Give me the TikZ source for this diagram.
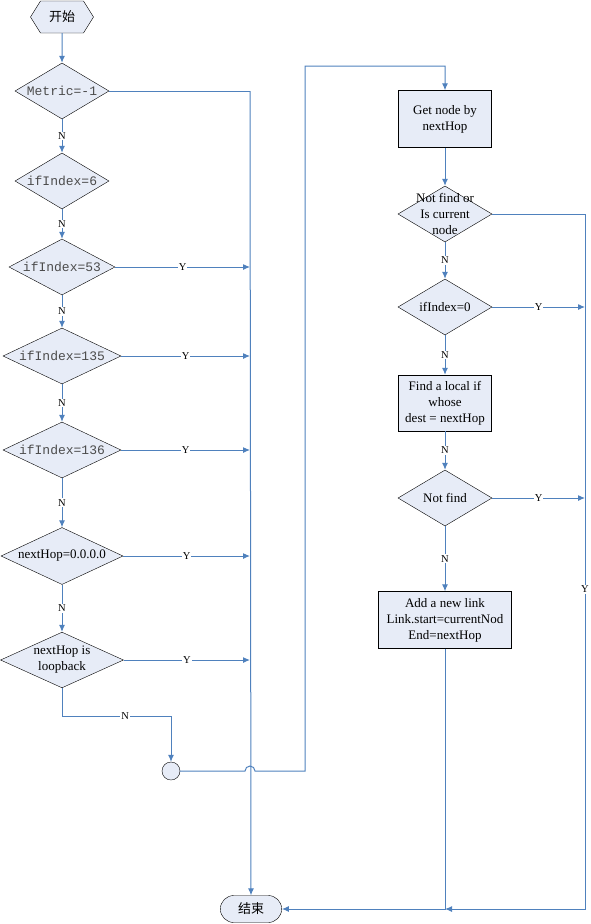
\documentclass[tikz,border=0pt]{standalone}
\usepackage{fontspec}
\setmainfont{Liberation Serif}
\setmonofont{Liberation Mono}
\newfontfamily\cjk{Noto Sans CJK SC}
\usetikzlibrary{shapes.geometric,shapes.symbols,shapes.misc,arrows.meta}
\definecolor{lineblue}{RGB}{79,129,189}
\definecolor{boxfill}{RGB}{231,236,247}

\begin{document}
\begin{tikzpicture}
	[x=1pt,y=-1pt,
	 every node/.style={font=\fontsize{13}{16}\selectfont},
	 dec/.style={diamond,draw,fill=boxfill,inner sep=0pt,aspect=2,minimum width=94pt,minimum height=56pt},
	 proc/.style={rectangle,draw,fill=boxfill,align=center,minimum width=93pt,minimum height=57pt},
	 code/.style={font=\fontsize{13}{16}\selectfont\ttfamily,text=black!70},
	 yn/.style={fill=white,text=black,inner sep=1pt,font=\fontsize{10.5}{12}\selectfont},
	 link/.style={lineblue,line width=1pt},
	 >={Latex[length=7pt,width=6pt]}]
    \useasboundingbox (0,0) rectangle (591,924);

    \node[signal,signal to=west and east,signal pointer angle=116,draw,fill=boxfill,minimum width=63pt,minimum height=32pt,inner sep=0pt] (start) at (62,17) {\cjk 开始};
    \node[dec,code] (met) at (62,91) {Metric=-1};
    \node[dec,code] (i6) at (62,181) {ifIndex=6};
    \node[dec,code,minimum width=106pt] (i53) at (62,267) {ifIndex=53};
    \node[dec,code,minimum width=118pt] (i135) at (62,356) {ifIndex=135};
    \node[dec,code,minimum width=118pt] (i136) at (62,450) {ifIndex=136};
    \node[dec,minimum width=122pt,minimum height=57pt] (nh) at (62,556) {nextHop=0.0.0.0};
    \node[dec,align=center,minimum width=123pt,minimum height=55pt] (lb) at (62,660) {nextHop is\\loopback};
    \node[circle,draw,fill=boxfill,minimum size=18pt,inner sep=0pt] (con) at (171,771) {};
    \node[rounded rectangle,draw,fill=boxfill,minimum width=68pt,minimum height=27pt] (end) at (251,909) {\cjk 结束};

    \node[proc] (get) at (445,119) {Get node by\\nextHop};
    \node[dec] (cur) at (445,214) {};
    \node[align=center] (curtext) at (cur) {Not find or\\Is current\\node};
    \node[dec] (i0) at (445,307) {ifIndex=0};
    \node[proc,minimum height=56pt] (loc) at (445,403) {Find a local if\\whose\\dest = nextHop};
    \node[dec] (nf) at (445,498) {Not find};
    \node[proc,minimum width=133pt] (add) at (445,620) {Add a new link\\Link.start=currentNod\\End=nextHop};

    \coordinate (lt) at (250,91);
    \coordinate (hop) at (250,771);
    \coordinate (up1) at (305,771);
    \coordinate (up2) at (305,66);
    \coordinate (rb) at (585,909);
    \coordinate (j) at (445,909);

    % left column
    \draw[link,->] (start) -- (met);
    \draw[link,->] (met) -- node[yn]{N} (i6);
    \draw[link,->] (i6) -- node[yn]{N} (i53);
    \draw[link,->] (i53) -- node[yn]{N} (i135);
    \draw[link,->] (i135) -- node[yn]{N} (i136);
    \draw[link,->] (i136) -- node[yn]{N} (nh);
    \draw[link,->] (nh) -- node[yn]{N} (lb);
    \draw[link,->] (lb.south) -- ++(0,28) -| node[yn,pos=0.29]{N} (con.north);

    \draw[link] (met.east) -- (lt);
    \draw[link,->] (lt) -- (end.north);
    \draw[link,->] (i53.east) -- node[yn]{Y} (i53.east -| lt);
    \draw[link,->] (i135.east) -- node[yn]{Y} (i135.east -| lt);
    \draw[link,->] (i136.east) -- node[yn]{Y} (i136.east -| lt);
    \draw[link,->] (nh.east) -- node[yn]{Y} (nh.east -| lt);
    \draw[link,->] (lb.east) -- node[yn]{Y} (lb.east -| lt);

    % jump over to the right column
    \draw[link,->] (con.east) -- ([xshift=-5pt]hop) arc[start angle=180,end angle=0,radius=5pt]
        -- (up1) -- (up2) -| (get.north);

    % right column
    \draw[link,->] (get) -- (cur);
    \draw[link,->] (cur) -- node[yn]{N} (i0);
    \draw[link,->] (i0) -- node[yn]{N} (loc);
    \draw[link,->] (loc) -- node[yn]{N} (nf);
    \draw[link,->] (nf) -- node[yn]{N} (add);

    \draw[link,->] (cur.east) -| node[yn,pos=0.77]{Y} (rb) -- (j);
    \draw[link,->] (i0.east) -- node[yn]{Y} (i0.east -| rb);
    \draw[link,->] (nf.east) -- node[yn]{Y} (nf.east -| rb);
    \draw[link,->] (add.south) -- (j) -- (end.east);

\end{tikzpicture}
\end{document}
